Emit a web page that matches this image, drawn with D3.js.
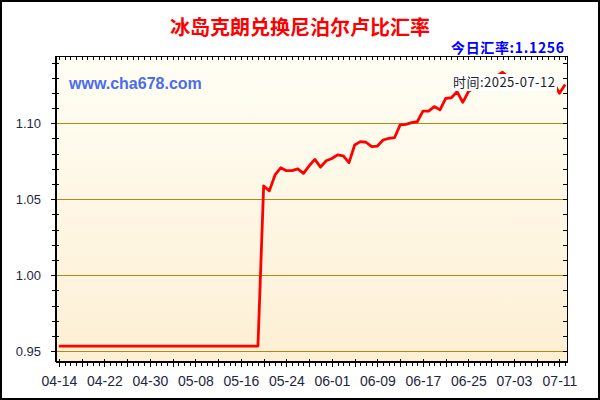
<!DOCTYPE html>
<html><head><meta charset="utf-8">
<script src="https://cdn.jsdelivr.net/npm/d3@7"></script>
<style>body{margin:0;background:#fff}svg{display:block}</style>
</head><body>
<svg id="c" width="600" height="400"></svg>
<script>
const title = "冰岛克朗兑换尼泊尔卢比汇率";
const currentRate = "今日汇率:1.1256";
const watermark = "www.cha678.com";
const tooltipText = "时间:2025-07-12";
const startDate = "2025-04-14";
const rates = [
 0.9533,0.9533,0.9533,0.9533,0.9533,0.9533,0.9533,0.9533,0.9533,0.9533,
 0.9533,0.9533,0.9533,0.9533,0.9533,0.9533,0.9533,0.9533,0.9533,0.9533,
 0.9533,0.9533,0.9533,0.9533,0.9533,0.9533,0.9533,0.9533,0.9533,0.9533,
 0.9533,0.9533,0.9533,0.9533,0.9533,0.9533,
 1.0587,1.0555,1.0660,1.0707,1.0688,1.0688,1.0700,1.0670,1.0720,1.0762,
 1.0711,1.0753,1.0768,1.0792,1.0785,1.0741,1.0857,1.0879,1.0875,1.0846,
 1.0850,1.0890,1.0900,1.0905,1.0989,1.0993,1.1004,1.1010,1.1080,1.1080,
 1.1110,1.1088,1.1164,1.1168,1.1208,1.1138,1.1208,1.1235,1.1250,1.1262,
 1.1290,1.1312,1.1336,1.1305,1.1290,1.1296,1.1280,1.1262,1.1270,1.1255,
 1.1262,1.1265,1.1197,1.1256
];
const xTickLabels = ["04-14","04-22","04-30","05-08","05-16","05-24","06-01","06-09","06-17","06-25","07-03","07-11"];
const yTickLabels = ["0.95","1.00","1.05","1.10"];

const parse = d3.timeParse("%Y-%m-%d");
const d0 = parse(startDate);
const dates = rates.map((_, i) => d3.timeDay.offset(d0, i));
const data = dates.map((d, i) => ({date: d, value: rates[i]}));

const L = 56, R = 568, T = 56, B = 362;
const x = d3.scaleTime()
  .domain([d3.timeHour.offset(dates[0], -12), d3.timeHour.offset(dates[dates.length - 1], 12)])
  .range([L, R]);
const y = d3.scaleLinear().domain([0.9428, 1.1443]).range([B, T]);

const svg = d3.select("#c");
const defs = svg.append("defs");
const g = defs.append("linearGradient").attr("id", "bg").attr("x1", 0).attr("y1", 0).attr("x2", 0).attr("y2", 1);
g.append("stop").attr("offset", "0%").attr("stop-color", "#fffef4");
g.append("stop").attr("offset", "100%").attr("stop-color", "#fdefd4");

svg.append("rect").attr("x", 1).attr("y", 1).attr("width", 598).attr("height", 398)
  .attr("fill", "#fff").attr("stroke", "#000").attr("stroke-width", 2);

svg.append("rect").attr("x", L).attr("y", T).attr("width", R - L).attr("height", B - T).attr("fill", "url(#bg)");

// gridlines
const yMajor = yTickLabels.map(Number);
svg.append("g").selectAll("line").data(yMajor).join("line")
  .attr("x1", L).attr("x2", R).attr("y1", d => Math.round(y(d)) + 0.5).attr("y2", d => Math.round(y(d)) + 0.5)
  .attr("stroke", "#b8860b").attr("stroke-width", 1);

const yMinor = d3.range(95, 115).map(v => v / 100);
const dayTicks = dates;
const fourDay = dates.filter((d, i) => i % 4 === 0);
const labelDates = xTickLabels.map(s => parse("2025-" + s));

function styleAxis(sel, fs) {
  sel.select(".domain").remove();
  sel.selectAll("line").attr("stroke", "#000").attr("shape-rendering", "crispEdges");
  sel.selectAll("text").attr("font-family", "Liberation Sans, Arial, sans-serif").attr("font-size", fs || 13).attr("fill", "#1e2640");
}

// left axis
const lm = svg.append("g").attr("transform", `translate(${L},0)`)
  .call(d3.axisLeft(y).tickValues(yMinor.filter(v => !yMajor.some(m => Math.abs(m - v) < 1e-9))).tickSize(4).tickFormat(""));
styleAxis(lm); lm.selectAll("line").attr("x1", 3);
const lM = svg.append("g").attr("transform", `translate(${L},0)`)
  .call(d3.axisLeft(y).tickValues(yMajor).tickSize(5).tickPadding(10).tickFormat((d, i) => yTickLabels[i]));
styleAxis(lM, 13);
// right axis ticks inward
const ra = svg.append("g").attr("transform", `translate(${R},0)`)
  .call(d3.axisLeft(y).tickValues(yMinor).tickSize(5).tickFormat(""));
styleAxis(ra); ra.selectAll("line").attr("x1", 0).attr("x2", -5);
// top axis ticks inward
const ta = svg.append("g").attr("transform", `translate(0,${T})`)
  .call(d3.axisTop(x).tickValues(dayTicks).tickSize(4).tickFormat(""));
styleAxis(ta); ta.selectAll("line").attr("y2", 4);
// bottom axis
const bm = svg.append("g").attr("transform", `translate(0,${B})`)
  .call(d3.axisBottom(x).tickValues(dayTicks).tickSize(4).tickFormat(""));
styleAxis(bm);
const bM = svg.append("g").attr("transform", `translate(0,${B})`)
  .call(d3.axisBottom(x).tickValues(fourDay).tickSize(5).tickFormat(""));
styleAxis(bM); bM.selectAll("line").attr("y1", -3);
const bl = svg.append("g").attr("transform", `translate(0,${B})`)
  .call(d3.axisBottom(x).tickValues(labelDates).tickSize(0).tickPadding(14).tickFormat((d, i) => xTickLabels[i]));
styleAxis(bl, 14);

// frame
svg.append("rect").attr("x", L + 0.5).attr("y", T + 0.5).attr("width", R - L - 1).attr("height", B - T - 1)
  .attr("fill", "none").attr("stroke", "#000").attr("stroke-width", 1);
svg.append("line").attr("x1", L - 0.5).attr("x2", L - 0.5).attr("y1", T).attr("y2", B).attr("stroke", "#000");
svg.append("line").attr("x1", L).attr("x2", R).attr("y1", B + 0.5).attr("y2", B + 0.5).attr("stroke", "#000");

// watermark
svg.append("text").attr("x", 69).attr("y", 89).text(watermark)
  .attr("font-family", "Liberation Sans, Arial, sans-serif").attr("font-weight", "bold").attr("font-size", 16)
  .attr("fill", "#4a6cf0");

// line
const line = d3.line().x(d => x(d.date)).y(d => y(d.value));
svg.append("path").datum(data).attr("d", line).attr("fill", "none")
  .attr("stroke", "#ff0000").attr("stroke-width", 2.8).attr("stroke-linejoin", "round");

// tooltip
svg.append("rect").attr("x", 452).attr("y", 74).attr("width", 105).attr("height", 17).attr("fill", "#fff");
svg.append("text").attr("x", 453).attr("y", 87).text(tooltipText)
  .attr("textLength", 102).attr("lengthAdjust", "spacing")
  .attr("font-family", "Noto Sans CJK SC, sans-serif").attr("font-size", 13).attr("fill", "#222");

// titles
svg.append("text").attr("x", 300).attr("y", 35).attr("text-anchor", "middle").text(title)
  .attr("font-family", "Noto Sans CJK SC, sans-serif").attr("font-weight", "bold").attr("font-size", 20).attr("fill", "#ff0000");
svg.append("text").attr("x", 451).attr("y", 53).text(currentRate)
  .attr("textLength", 113).attr("lengthAdjust", "spacing")
  .attr("font-family", "Noto Sans CJK SC, sans-serif").attr("font-weight", "bold").attr("font-size", 14).attr("fill", "#0000ff");
</script>
</body></html>
